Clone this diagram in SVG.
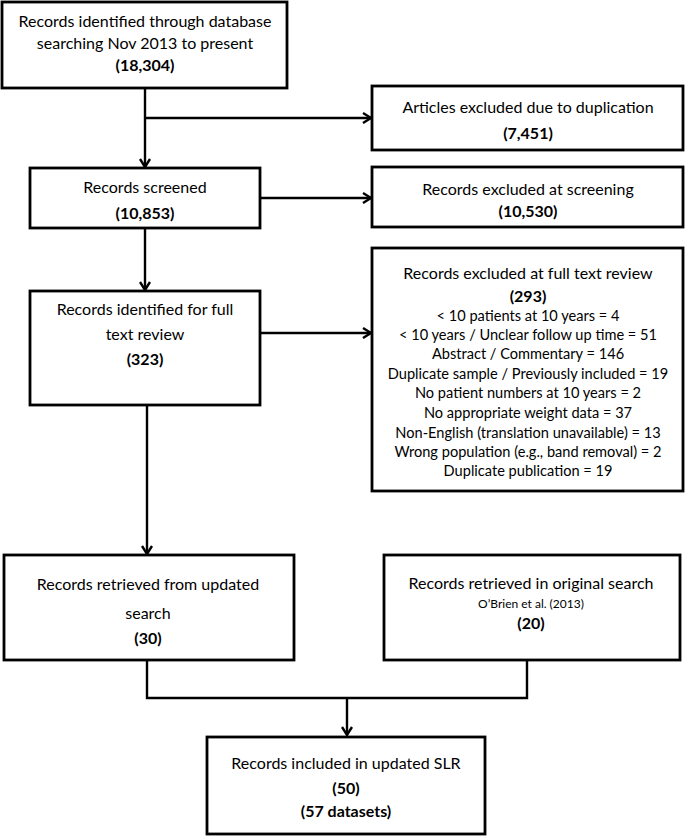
<svg xmlns="http://www.w3.org/2000/svg" width="685" height="837" viewBox="0 0 685 837">
<defs>
<marker id="arr" viewBox="0 0 12 12" refX="11" refY="6" markerWidth="12" markerHeight="12" markerUnits="userSpaceOnUse" orient="auto">
<path d="M3,1 L11,6 L3,11" fill="none" stroke="#000" stroke-width="2.4"/>
</marker>
</defs>
<style>
.box{fill:#fff;stroke:#000;stroke-width:2.8}
.ln{fill:none;stroke:#000;stroke-width:2.4}
text{font-family:Lato,"Liberation Sans",sans-serif;font-size:16px;fill:#000;text-anchor:middle;dominant-baseline:central}
.b{font-weight:bold}
.s{font-size:12px}
.l{font-size:14.6px}
</style>
<rect width="685" height="837" fill="#fff"/>
<g id="connectors">
<line class="ln" x1="145" y1="88" x2="145" y2="167" marker-end="url(#arr)"/>
<line class="ln" x1="145" y1="118" x2="371" y2="118" marker-end="url(#arr)"/>
<line class="ln" x1="260" y1="198" x2="371" y2="198" marker-end="url(#arr)"/>
<line class="ln" x1="145" y1="228" x2="145" y2="290" marker-end="url(#arr)"/>
<line class="ln" x1="260" y1="333" x2="371" y2="333" marker-end="url(#arr)"/>
<line class="ln" x1="147" y1="405" x2="147" y2="554" marker-end="url(#arr)"/>
<polyline class="ln" points="147,660 147,698 527,698 527,660"/>
<line class="ln" x1="347" y1="698" x2="347" y2="735" marker-end="url(#arr)"/>
</g>
<g id="n1">
<rect class="box" x="2" y="2" width="285" height="86"/>
<text x="145" y="20">Records identified through database</text>
<text x="145" y="42">searching Nov 2013 to present</text>
<text class="b" x="145" y="64">(18,304)</text>
</g>
<g id="n2">
<rect class="box" x="372" y="86" width="311" height="64"/>
<text x="528" y="106">Articles excluded due to duplication</text>
<text class="b" x="528" y="132">(7,451)</text>
</g>
<g id="n3">
<rect class="box" x="30" y="168" width="230" height="60"/>
<text x="145" y="186">Records screened</text>
<text class="b" x="145" y="212">(10,853)</text>
</g>
<g id="n4">
<rect class="box" x="372" y="167" width="311" height="60"/>
<text x="528" y="188">Records excluded at screening</text>
<text class="b" x="528" y="210">(10,530)</text>
</g>
<g id="n5">
<rect class="box" x="30" y="291" width="230" height="114"/>
<text x="145" y="308">Records identified for full</text>
<text x="145" y="333">text review</text>
<text class="b" x="145" y="358">(323)</text>
</g>
<g id="n6">
<rect class="box" x="372" y="248" width="311" height="243"/>
<text x="528" y="272">Records excluded at full text review</text>
<text class="b" x="528" y="295">(293)</text>
<text class="l" x="528" y="315">&lt; 10 patients at 10 years = 4</text>
<text class="l" x="528" y="334">&lt; 10 years / Unclear follow up time = 51</text>
<text class="l" x="528" y="353">Abstract / Commentary = 146</text>
<text class="l" x="528" y="373">Duplicate sample / Previously included = 19</text>
<text class="l" x="528" y="392">No patient numbers at 10 years = 2</text>
<text class="l" x="528" y="412">No appropriate weight data = 37</text>
<text class="l" x="528" y="432">Non-English (translation unavailable) = 13</text>
<text class="l" x="528" y="451">Wrong population (e.g., band removal) = 2</text>
<text class="l" x="528" y="470">Duplicate publication = 19</text>
</g>
<g id="n7">
<rect class="box" x="4" y="555" width="290" height="105"/>
<text x="148" y="583">Records retrieved from updated</text>
<text x="148" y="612">search</text>
<text class="b" x="148" y="637">(30)</text>
</g>
<g id="n8">
<rect class="box" x="384" y="555" width="296" height="105"/>
<text x="531" y="582">Records retrieved in original search</text>
<text class="s" x="531" y="603">O’Brien et al. (2013)</text>
<text class="b" x="531" y="622">(20)</text>
</g>
<g id="n9">
<rect class="box" x="207" y="737" width="278" height="97"/>
<text x="346" y="762">Records included in updated SLR</text>
<text class="b" x="346" y="787">(50)</text>
<text class="b" x="346" y="810">(57 datasets)</text>
</g>
</svg>
